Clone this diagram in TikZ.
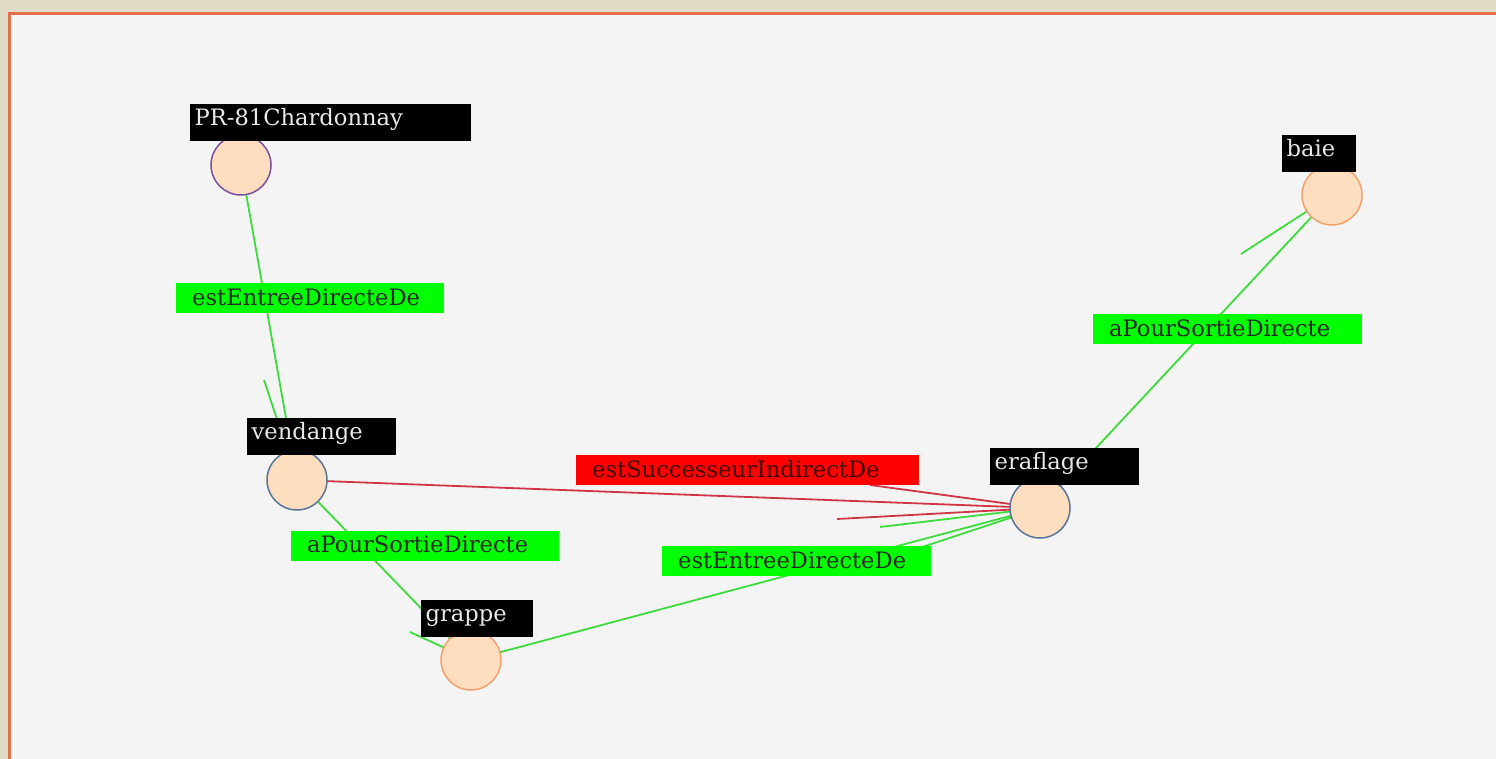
\documentclass[tikz,border=0pt]{standalone}
\usepackage{fontspec}
\setmainfont{DejaVu Serif}
\definecolor{beige}{HTML}{E0DCC6}
\definecolor{frame}{HTML}{E2704F}
\definecolor{canvas}{HTML}{F4F4F4}
\definecolor{peach}{HTML}{FDDFC0}
\definecolor{purpleedge}{HTML}{7B4FA0}
\definecolor{slateedge}{HTML}{5A7398}
\definecolor{orangeedge}{HTML}{F2A070}
\definecolor{gline}{HTML}{3CDC3C}
\definecolor{rline}{HTML}{D03545}
\definecolor{gfill}{HTML}{00FF00}
\definecolor{rfill}{HTML}{FF0000}
\definecolor{ntext}{HTML}{E8E8E8}
\newcommand\lbltxt[2]{\makebox[#1][l]{#2}}
\pgfdeclarelayer{paper}
\pgfdeclarelayer{wires}
\pgfsetlayers{paper,wires,main}
\begin{document}
\begin{tikzpicture}[x=1pt,y=-1pt,
  vnode/.style={circle, fill=peach, minimum size=60pt, inner sep=0pt, line width=1.5pt},
  namebox/.style={anchor=north west, fill=black, text=ntext, inner xsep=4.5pt, inner ysep=0pt,
    text height=21.5pt, text depth=15.5pt, font=\fontsize{22.6}{24}\selectfont},
  edgebox/.style={anchor=north west, inner xsep=16pt, inner ysep=0pt,
    text height=22pt, text depth=8pt, font=\fontsize{22.6}{24}\selectfont},
  glab/.style={edgebox, fill=gfill, text=black!85},
  rlab/.style={edgebox, fill=rfill, text=black!75!red},
  gedge/.style={draw=gline, line width=1.8pt},
  redge/.style={draw=rline, line width=1.8pt}]
\useasboundingbox (0,0) rectangle (1496,759);
\clip (0,0) rectangle (1496,759);
% background
\begin{pgfonlayer}{paper}
\fill[beige] (0,0) rectangle (1496,759);
\draw[frame, line width=3.5pt, fill=canvas] (9.5,13.5) rectangle (1520,790);
\end{pgfonlayer}

% vertices
\node[vnode, draw=purpleedge] (pr) at (241,165) {};
\node[vnode, draw=slateedge] (vend) at (297,480) {};
\node[vnode, draw=orangeedge] (grap) at (471,660) {};
\node[vnode, draw=slateedge] (eraf) at (1040,508) {};
\node[vnode, draw=orangeedge] (baie) at (1332,195) {};

% barb end points
\coordinate (b1) at (264,380);
\coordinate (b2) at (410,632);
\coordinate (b3a) at (870,485);
\coordinate (b3b) at (837,519);
\coordinate (b4a) at (880,527);
\coordinate (b4b) at (880,561);
\coordinate (b5) at (1241,254);

% connectors behind the vertices
\begin{pgfonlayer}{wires}
\draw[gedge] (pr.center) -- (vend.center);
\draw[gedge] (b1) -- (vend.center);
\draw[gedge] (vend.center) -- (grap.center);
\draw[gedge] (b2) -- (grap.center);
\draw[redge] (vend.center) -- (eraf.center);
\draw[redge] (b3a) -- (eraf.center);
\draw[redge] (b3b) -- (eraf.center);
\draw[gedge] (grap.center) -- (eraf.center);
\draw[gedge] (b4a) -- (eraf.center);
\draw[gedge] (b4b) -- (eraf.center);
\draw[gedge] (eraf.center) -- (baie.center);
\draw[gedge] (b5) -- (baie.center);
\end{pgfonlayer}

% edge labels
\node[glab] (l1) at (176,283) {\lbltxt{236pt}{estEntreeDirecteDe}};
\node[glab] (l2) at (291,530.5) {\lbltxt{236pt}{aPourSortieDirecte}};
\node[rlab] (l3) at (576,455) {\lbltxt{311pt}{estSuccesseurIndirectDe}};
\node[glab] (l4) at (662,546) {\lbltxt{237pt}{estEntreeDirecteDe}};
\node[glab] (l5) at (1093,314) {\lbltxt{237pt}{aPourSortieDirecte}};

% vertex names
\node[namebox] (n1) at (190,104) {\lbltxt{272pt}{PR-81Chardonnay}};
\node[namebox] (n2) at (247,418) {\lbltxt{140pt}{vendange}};
\node[namebox] (n3) at (421,600) {\lbltxt{103pt}{grappe}};
\node[namebox] (n4) at (990,448) {\lbltxt{140pt}{eraflage}};
\node[namebox] (n5) at (1282,135) {\lbltxt{65pt}{baie}};
\end{tikzpicture}
\end{document}
